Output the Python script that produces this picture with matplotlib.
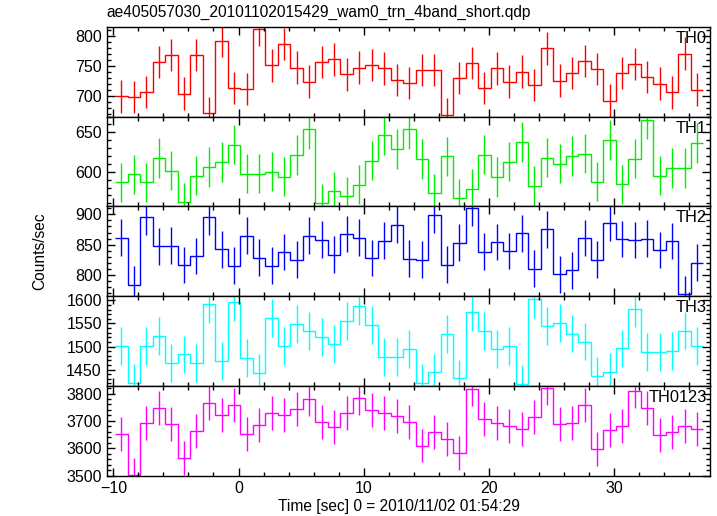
import numpy as np
import matplotlib
matplotlib.use("Agg")
import matplotlib.pyplot as plt
from matplotlib.ticker import MultipleLocator

plt.rcParams['font.family'] = ['Liberation Sans', 'DejaVu Sans']

title = "ae405057030_20101102015429_wam0_trn_4band_short.qdp"
xlabel = "Time [sec] 0 = 2010/11/02 01:54:29"
ylabel = "Counts/sec"

# bin centres (1 s bins)
time = np.arange(47) - 9.36

th0 = [699.5, 698.5, 707, 756.7, 768, 704, 768, 672, 791.8, 713, 712, 810.5,
       751, 786, 747, 724, 756.7, 761, 736, 747, 751.7, 746, 726.5, 721.6,
       743.5, 743.5, 669.4, 729.8, 754.5, 713, 746, 724, 740.7, 718.3, 779.2,
       725.5, 738, 757.8, 744.6, 692.4, 738, 752.9, 731.5, 720.4, 706, 770.3, 710.5]
th1 = [586.6, 596.6, 586.6, 617.5, 601.2, 561.2, 595, 605.8, 612.5, 634.5, 597.5,
       597.5, 600, 593.7, 621.2, 653.7, 560, 575, 568.7, 583.7, 614, 646.2, 628.7,
       653.7, 616.2, 572.5, 619.5, 566.2, 578.2, 621.6, 593.2, 612.9, 637.5, 582,
       617.9, 610.4, 620, 622.9, 587.5, 640.4, 584, 616.6, 666.2, 595, 605, 605, 636.6]
th2 = [861.6, 784.2, 896.2, 847.3, 848.4, 816.5, 831.3, 896.2, 842.3, 815.5, 864.9,
       828.7, 815.5, 837.9, 825.3, 864.9, 858.3, 833.6, 867.6, 861.6, 828, 856.6,
       883, 827, 825.3, 898.4, 817.1, 853.4, 910.4, 838.5, 854.4, 839.5, 868.7,
       810.5, 875.3, 801.2, 807.7, 861, 825.3, 885.7, 859.3, 857.7, 860, 841.3,
       856, 768.7, 820.4]
th3 = [1501.5, 1421.4, 1500.9, 1522.5, 1464.7, 1482.7, 1464.7, 1591.8, 1468.4,
       1596.1, 1474.9, 1443, 1561.5, 1500.9, 1549.1, 1533.3, 1520.3, 1505.8, 1555,
       1588.7, 1546.3, 1477, 1477.7, 1494.4, 1421.4, 1443.7, 1526.8, 1430.7, 1574.5,
       1533.3, 1494.4, 1501.5, 1418.6, 1602.6, 1544.8, 1550.6, 1528.1, 1510.8,
       1435.9, 1445.2, 1495.7, 1582.3, 1488.5, 1488.5, 1490.7, 1534.6, 1500.9]
th0123 = [3653.3, 3503.7, 3692.6, 3747.8, 3687.5, 3566.2, 3661.8, 3764.7, 3720.6,
          3758.8, 3653.3, 3685.3, 3727.9, 3722, 3744.1, 3778.3, 3697.4, 3676.5,
          3727.9, 3783.1, 3740.4, 3729.4, 3719.5, 3697.4, 3610.3, 3660.7, 3633.8,
          3584.6, 3817.6, 3707.4, 3692.6, 3681.6, 3670.6, 3714.7, 3821.3, 3690,
          3693.8, 3758.8, 3597, 3665.4, 3680.1, 3808.8, 3747.8, 3647.1, 3659.6,
          3682.7, 3671.7]

errors = [27, 25, 30, 41, 62]
names = ["TH0", "TH1", "TH2", "TH3", "TH0123"]
series = [th0, th1, th2, th3, th0123]
colors = ["#ff0000", "#00ee00", "#0000ff", "#00ffff", "#ff00ff"]
ylims = [(666, 815), (556, 670), (765, 913), (1414, 1609), (3499, 3827)]
ymajor = [50, 50, 50, 50, 100]
yminor = [10, 10, 10, 10, 20]

fig = plt.figure(figsize=(7.17, 5.16), dpi=100)
left, right = 106.7 / 717, 710 / 717
top, bottom = 1 - 26.7 / 516, 1 - 476 / 516
h = (top - bottom) / 5

edges = np.append(time - 0.5, time[-1] + 0.5)
axes = []
for i in range(5):
    ax = fig.add_axes([left, top - (i + 1) * h, right - left, h])
    vals = np.array(series[i])
    ax.stairs(vals, edges, color=colors[i], lw=1.0, baseline=None)
    ax.errorbar(time, vals, yerr=errors[i], fmt='none', ecolor=colors[i], elinewidth=1.0)
    ax.set_xlim(-10.53, 37.66)
    ax.set_ylim(*ylims[i])
    ax.xaxis.set_major_locator(MultipleLocator(10))
    ax.xaxis.set_minor_locator(MultipleLocator(2))
    ax.yaxis.set_major_locator(MultipleLocator(ymajor[i]))
    ax.yaxis.set_minor_locator(MultipleLocator(yminor[i]))
    ax.tick_params(which='both', direction='in', top=True, right=True, labelsize=11.5, width=1)
    ax.tick_params(which='major', length=6)
    ax.tick_params(which='minor', length=3)
    for s in ax.spines.values():
        s.set_linewidth(1)
    if i < 4:
        ax.tick_params(labelbottom=False)
    ax.text(0.995, 0.955, names[i], transform=ax.transAxes, ha='right', va='top', fontsize=11.8)
    axes.append(ax)

fig.text(left, 1 - 12 / 516, title, ha='left', va='center', fontsize=11.2)
fig.text(40 / 717, 0.5128, ylabel, rotation=90, ha='center', va='center', fontsize=11.2)
fig.text(399 / 717, 1 - 506 / 516, xlabel, ha='center', va='center', fontsize=11.2)

fig.savefig("out.png", dpi=100)
